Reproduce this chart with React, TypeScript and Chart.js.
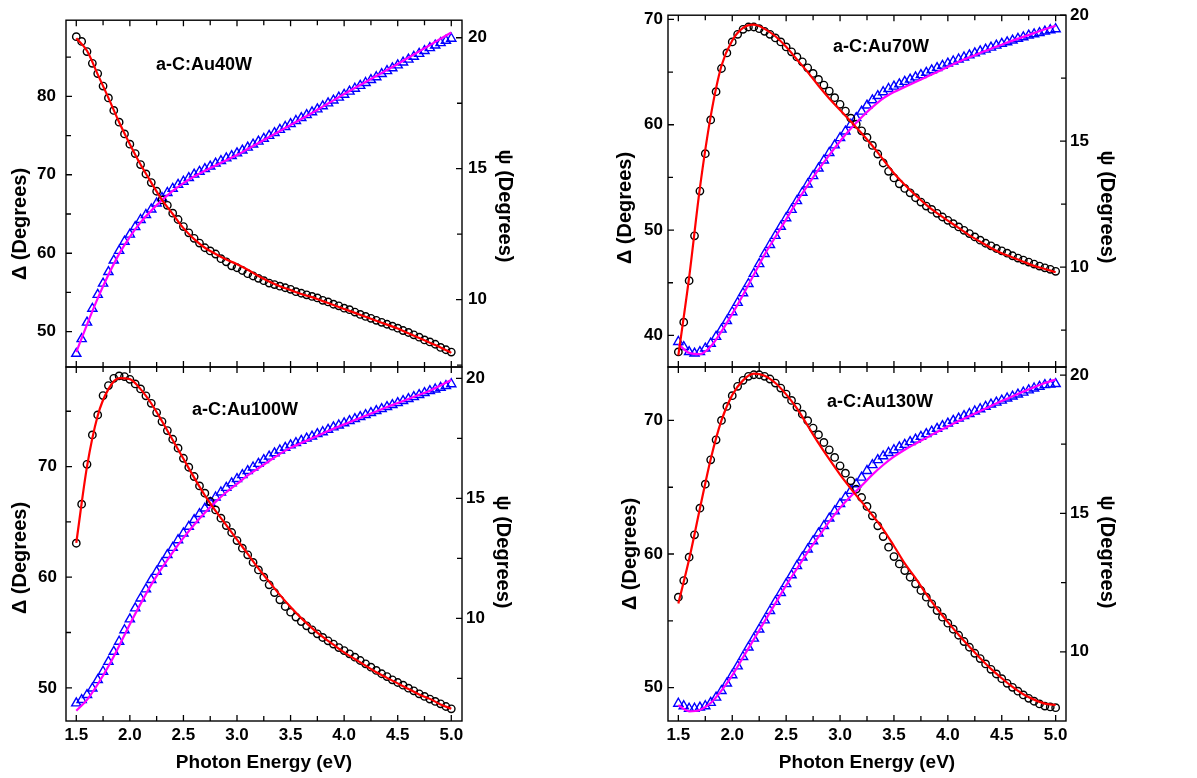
import React, { useEffect, useRef } from 'react';
import { Chart, registerables } from 'chart.js';

Chart.register(...registerables);

const FONT = '"Liberation Sans", Arial, Helvetica, sans-serif';

// Photon energy grid of the measured points (eV)
const ENERGY = [
  1.5, 1.55, 1.6, 1.65, 1.7, 1.75, 1.8, 1.85, 1.9, 1.95,
  2.0, 2.05, 2.1, 2.15, 2.2, 2.25, 2.3, 2.35, 2.4, 2.45,
  2.5, 2.55, 2.6, 2.65, 2.7, 2.75, 2.8, 2.85, 2.9, 2.95,
  3.0, 3.05, 3.1, 3.15, 3.2, 3.25, 3.3, 3.35, 3.4, 3.45,
  3.5, 3.55, 3.6, 3.65, 3.7, 3.75, 3.8, 3.85, 3.9, 3.95,
  4.0, 4.05, 4.1, 4.15, 4.2, 4.25, 4.3, 4.35, 4.4, 4.45,
  4.5, 4.55, 4.6, 4.65, 4.7, 4.75, 4.8, 4.85, 4.9, 4.95,
  5.0,
];

// Photon energy grid of the model fit curves (eV)
const FIT_ENERGY = [
  1.5, 1.6, 1.7, 1.8, 1.9, 2.0, 2.1, 2.2, 2.3, 2.4,
  2.5, 2.6, 2.7, 2.8, 2.9, 3.0, 3.1, 3.2, 3.3, 3.4,
  3.5, 3.6, 3.7, 3.8, 3.9, 4.0, 4.1, 4.2, 4.3, 4.4,
  4.5, 4.6, 4.7, 4.8, 4.9, 5.0,
];

// ---------- a-C:Au40W ----------
const DELTA_40W = [
  87.6, 87.0, 85.7, 84.2, 82.9, 81.3, 79.8, 78.2, 76.7, 75.2,
  73.9, 72.7, 71.3, 70.1, 69.0, 67.9, 66.8, 66.1, 65.1, 64.3,
  63.4, 62.6, 61.9, 61.3, 60.7, 60.3, 59.9, 59.3, 58.9, 58.4,
  58.15, 57.8, 57.4, 57.1, 56.8, 56.5, 56.2, 56.0, 55.8, 55.6,
  55.4, 55.1, 54.9, 54.7, 54.5, 54.3, 54.0, 53.8, 53.5, 53.3,
  53.0, 52.8, 52.5, 52.2, 51.95, 51.7, 51.45, 51.2, 50.95, 50.7,
  50.45, 50.15, 49.9, 49.6, 49.3, 48.95, 48.7, 48.4, 48.0, 47.7,
  47.4,
];
const DELTA_FIT_40W = [
  87.4, 85.8, 82.8, 79.8, 76.7, 73.9, 71.3, 69.0, 66.8, 65.0,
  63.2, 61.8, 60.7, 59.9, 59.2, 58.6, 57.9, 57.1, 56.4, 55.8,
  55.3, 54.8, 54.4, 53.9, 53.4, 52.9, 52.4, 51.9, 51.4, 50.9,
  50.4, 49.8, 49.2, 48.6, 48.0, 47.3,
];
const PSI_40W = [
  7.94, 8.5, 9.13, 9.66, 10.19, 10.62, 11.06, 11.5, 11.87, 12.22,
  12.49, 12.78, 13.05, 13.24, 13.45, 13.68, 13.89, 14.08, 14.24, 14.39,
  14.51, 14.65, 14.78, 14.89, 14.99, 15.09, 15.2, 15.3, 15.4, 15.49,
  15.59, 15.7, 15.81, 15.93, 16.04, 16.15, 16.26, 16.37, 16.49, 16.6,
  16.71, 16.83, 16.94, 17.05, 17.16, 17.27, 17.39, 17.5, 17.61, 17.72,
  17.83, 17.95, 18.06, 18.17, 18.28, 18.39, 18.5, 18.62, 18.73, 18.84,
  18.95, 19.06, 19.17, 19.28, 19.39, 19.5, 19.61, 19.71, 19.8, 19.89,
  19.97,
];
const PSI_FIT_40W = [
  8.0, 9.05, 10.05, 10.95, 11.75, 12.4, 12.95, 13.4, 13.8, 14.15,
  14.45, 14.7, 14.92, 15.12, 15.32, 15.52, 15.75, 15.98, 16.21, 16.44,
  16.67, 16.9, 17.13, 17.37, 17.61, 17.85, 18.08, 18.31, 18.54, 18.77,
  19.0, 19.24, 19.48, 19.72, 19.96, 20.2,
];

// ---------- a-C:Au70W ----------
const DELTA_70W = [
  38.43, 41.26, 45.2, 49.45, 53.7, 57.25, 60.46, 63.14, 65.34, 66.82,
  67.86, 68.58, 69.06, 69.28, 69.28, 69.12, 68.87, 68.58, 68.24, 67.86,
  67.39, 66.92, 66.44, 65.97, 65.4, 64.87, 64.3, 63.77, 63.2, 62.57,
  61.94, 61.3, 60.62, 60.05, 59.42, 58.8, 58.04, 57.22, 56.37, 55.58,
  54.95, 54.39, 53.95, 53.54, 53.07, 52.66, 52.28, 51.96, 51.59, 51.24,
  50.93, 50.61, 50.3, 49.98, 49.67, 49.35, 49.04, 48.75, 48.5, 48.25,
  48.03, 47.81, 47.56, 47.34, 47.15, 46.96, 46.77, 46.58, 46.42, 46.27,
  46.08,
];
const DELTA_FIT_70W = [
  38.1, 45.5, 54.0, 60.8, 65.6, 68.0, 69.2, 69.5, 69.1, 68.4,
  67.4, 66.2, 65.0, 63.7, 62.5, 61.4, 60.3, 59.2, 58.0, 56.7,
  55.4, 54.3, 53.3, 52.4, 51.6, 50.9, 50.2, 49.5, 48.9, 48.3,
  47.8, 47.4, 47.0, 46.6, 46.3, 46.0,
];
const PSI_70W = [
  7.04, 6.84, 6.64, 6.58, 6.64, 6.78, 6.97, 7.24, 7.53, 7.87,
  8.22, 8.59, 8.97, 9.34, 9.74, 10.13, 10.53, 10.89, 11.25, 11.61,
  11.95, 12.28, 12.63, 12.96, 13.29, 13.62, 13.92, 14.24, 14.54, 14.84,
  15.13, 15.39, 15.66, 15.92, 16.18, 16.42, 16.63, 16.8, 16.95, 17.08,
  17.17, 17.26, 17.36, 17.45, 17.54, 17.63, 17.72, 17.82, 17.91, 18.0,
  18.09, 18.17, 18.25, 18.33, 18.41, 18.49, 18.57, 18.64, 18.72, 18.8,
  18.87, 18.93, 19.0, 19.07, 19.13, 19.2, 19.25, 19.3, 19.36, 19.41,
  19.45,
];
const PSI_FIT_70W = [
  6.95, 6.6, 6.55, 6.85, 7.45, 8.15, 8.9, 9.7, 10.5, 11.2,
  11.9, 12.6, 13.25, 13.87, 14.45, 15.0, 15.5, 15.95, 16.35, 16.7,
  16.95, 17.15, 17.35, 17.55, 17.75, 17.95, 18.15, 18.33, 18.5, 18.67,
  18.83, 18.99, 19.14, 19.29, 19.44, 19.58,
];

// ---------- a-C:Au100W ----------
const DELTA_100W = [
  63.07, 66.6, 70.2, 72.86, 74.67, 76.42, 77.32, 77.98, 78.19, 78.13,
  77.89, 77.47, 77.02, 76.39, 75.72, 74.88, 74.07, 73.25, 72.47, 71.66,
  70.75, 69.94, 69.1, 68.25, 67.59, 66.84, 66.08, 65.33, 64.67, 64.04,
  63.31, 62.62, 62.02, 61.33, 60.66, 60.0, 59.31, 58.61, 57.95, 57.35,
  56.84, 56.39, 55.99, 55.6, 55.24, 54.88, 54.55, 54.25, 53.95, 53.64,
  53.37, 53.07, 52.77, 52.47, 52.17, 51.87, 51.57, 51.27, 51.02, 50.72,
  50.48, 50.24, 49.97, 49.73, 49.46, 49.22, 48.98, 48.77, 48.55, 48.31,
  48.1,
];
const DELTA_FIT_100W = [
  63.1, 70.0, 74.6, 77.0, 78.0, 77.9, 77.0, 75.7, 74.1, 72.4,
  70.7, 69.0, 67.4, 66.0, 64.7, 63.4, 62.1, 60.8, 59.6, 58.4,
  57.3, 56.3, 55.4, 54.6, 53.9, 53.2, 52.6, 52.0, 51.4, 50.9,
  50.4, 49.9, 49.4, 49.0, 48.5, 48.1,
];
const PSI_100W = [
  6.46, 6.6, 6.81, 7.08, 7.43, 7.78, 8.19, 8.61, 9.03, 9.51,
  9.96, 10.42, 10.83, 11.21, 11.6, 11.94, 12.29, 12.64, 12.94, 13.26,
  13.54, 13.82, 14.1, 14.35, 14.58, 14.82, 15.04, 15.25, 15.44, 15.63,
  15.81, 15.97, 16.14, 16.29, 16.44, 16.6, 16.74, 16.88, 17.0, 17.11,
  17.21, 17.31, 17.4, 17.49, 17.58, 17.68, 17.76, 17.86, 17.96, 18.04,
  18.13, 18.22, 18.31, 18.39, 18.47, 18.56, 18.64, 18.72, 18.81, 18.89,
  18.97, 19.06, 19.14, 19.22, 19.31, 19.39, 19.47, 19.54, 19.61, 19.68,
  19.76,
];
const PSI_FIT_100W = [
  6.15, 6.6, 7.25, 8.0, 8.85, 9.75, 10.6, 11.4, 12.1, 12.75,
  13.35, 13.9, 14.4, 14.85, 15.25, 15.6, 15.95, 16.25, 16.55, 16.85,
  17.1, 17.3, 17.5, 17.7, 17.9, 18.08, 18.26, 18.44, 18.62, 18.8,
  18.97, 19.14, 19.31, 19.48, 19.7, 19.93,
];

// ---------- a-C:Au130W ----------
const DELTA_130W = [
  56.77, 58.01, 59.76, 61.44, 63.43, 65.23, 67.05, 68.55, 70.0, 71.05,
  71.85, 72.55, 73.0, 73.3, 73.42, 73.42, 73.3, 73.1, 72.8, 72.42,
  71.97, 71.5, 71.0, 70.47, 69.98, 69.43, 68.93, 68.35, 67.8, 67.23,
  66.6, 66.05, 65.48, 64.86, 64.23, 63.56, 62.86, 62.11, 61.31, 60.51,
  59.81, 59.26, 58.76, 58.26, 57.77, 57.27, 56.77, 56.27, 55.77, 55.27,
  54.82, 54.37, 53.92, 53.45, 53.02, 52.57, 52.17, 51.77, 51.37, 51.02,
  50.67, 50.32, 50.02, 49.73, 49.45, 49.2, 48.98, 48.78, 48.62, 48.55,
  48.5,
];
const DELTA_FIT_130W = [
  56.3, 59.6, 63.4, 67.1, 70.0, 71.9, 73.0, 73.5, 73.35, 72.8,
  71.95, 70.9, 69.6, 68.3, 67.1, 65.95, 64.9, 63.9, 62.9, 61.85,
  60.6, 59.3, 58.2, 57.0, 55.9, 54.9, 53.95, 53.05, 52.2, 51.4,
  50.7, 50.05, 49.5, 49.1, 48.8, 48.7,
];
const PSI_130W = [
  8.13, 8.04, 7.95, 7.95, 7.99, 8.04, 8.16, 8.35, 8.59, 8.86,
  9.16, 9.48, 9.82, 10.16, 10.48, 10.81, 11.14, 11.48, 11.81, 12.13,
  12.45, 12.77, 13.1, 13.41, 13.7, 14.0, 14.28, 14.55, 14.82, 15.08,
  15.34, 15.58, 15.82, 16.06, 16.3, 16.54, 16.75, 16.93, 17.07, 17.19,
  17.29, 17.39, 17.48, 17.58, 17.67, 17.77, 17.87, 17.96, 18.06, 18.16,
  18.25, 18.35, 18.43, 18.52, 18.6, 18.69, 18.77, 18.86, 18.94, 19.01,
  19.08, 19.16, 19.23, 19.3, 19.37, 19.45, 19.52, 19.58, 19.64, 19.66,
  19.68,
];
const PSI_FIT_130W = [
  8.07, 7.85, 7.9, 8.15, 8.6, 9.15, 9.8, 10.45, 11.1, 11.75,
  12.4, 13.0, 13.6, 14.15, 14.7, 15.2, 15.62, 16.0, 16.4, 16.75,
  17.05, 17.3, 17.52, 17.73, 17.94, 18.14, 18.34, 18.52, 18.7, 18.88,
  19.06, 19.23, 19.4, 19.56, 19.71, 19.84,
];

// Tick values
const X_MAJOR = [1.5, 2.0, 2.5, 3.0, 3.5, 4.0, 4.5, 5.0];
const X_MINOR = [1.75, 2.25, 2.75, 3.25, 3.75, 4.25, 4.75];
const PSI_MAJOR = [10, 15, 20];

type Pt = { x: number; y: number };
const pts = (xs: number[], ys: number[]): Pt[] => ys.map((y, i) => ({ x: xs[i], y }));

interface PanelDef {
  name: string;
  delta: number[];
  deltaFit: number[];
  psi: number[];
  psiFit: number[];
  area: { l: number; r: number; t: number; b: number };
  showX: boolean;
  xRange: [number, number];
  yRange: [number, number];
  y2Range: [number, number];
  yMajor: number[];
  yMinor: number[];
  y2Major: number[];
  y2Minor: number[];
  yPad: number;
  y2Pad: number;
  labelPos: [number, number];
  yTitlePos: [number, number];
  y2TitlePos: [number, number];
  xTitlePos: [number, number];
}

const PANELS: PanelDef[] = [
  {
    name: 'a-C:Au40W', delta: DELTA_40W, deltaFit: DELTA_FIT_40W, psi: PSI_40W, psiFit: PSI_FIT_40W,
    area: { l: 66, r: 462, t: 13, b: 367 }, showX: false,
    xRange: [1.404, 5.1], yRange: [45.5, 89.7], y2Range: [7.43, 20.67],
    yMajor: [50, 60, 70, 80], yMinor: [55, 65, 75, 85],
    y2Major: PSI_MAJOR, y2Minor: [7.5, 12.5, 17.5],
    yPad: 10, y2Pad: 6,
    labelPos: [204, 65], yTitlePos: [20, 224], y2TitlePos: [505, 206], xTitlePos: [264, 763],
  },
  {
    name: 'a-C:Au70W', delta: DELTA_70W, deltaFit: DELTA_FIT_70W, psi: PSI_70W, psiFit: PSI_FIT_70W,
    area: { l: 668, r: 1066, t: 13, b: 367 }, showX: false,
    xRange: [1.404, 5.096], yRange: [37.0, 70.4], y2Range: [6.04, 20.0],
    yMajor: [40, 50, 60, 70], yMinor: [45, 55, 65],
    y2Major: PSI_MAJOR, y2Minor: [7.5, 12.5, 17.5],
    yPad: 5, y2Pad: 4,
    labelPos: [881, 47], yTitlePos: [625, 208], y2TitlePos: [1107, 207], xTitlePos: [867, 763],
  },
  {
    name: 'a-C:Au100W', delta: DELTA_100W, deltaFit: DELTA_FIT_100W, psi: PSI_100W, psiFit: PSI_FIT_100W,
    area: { l: 66, r: 462, t: 367, b: 721 }, showX: true,
    xRange: [1.404, 5.1], yRange: [47.0, 79.0], y2Range: [5.72, 20.47],
    yMajor: [50, 60, 70], yMinor: [55, 65, 75],
    y2Major: PSI_MAJOR, y2Minor: [7.5, 12.5, 17.5],
    yPad: 9, y2Pad: 4,
    labelPos: [245, 410], yTitlePos: [20, 558], y2TitlePos: [503, 552], xTitlePos: [264, 763],
  },
  {
    name: 'a-C:Au130W', delta: DELTA_130W, deltaFit: DELTA_FIT_130W, psi: PSI_130W, psiFit: PSI_FIT_130W,
    area: { l: 668, r: 1066, t: 367, b: 721 }, showX: true,
    xRange: [1.404, 5.096], yRange: [47.5, 74.0], y2Range: [7.5, 20.29],
    yMajor: [50, 60, 70], yMinor: [55, 65],
    y2Major: PSI_MAJOR, y2Minor: [12.5, 17.5],
    yPad: 5, y2Pad: 4,
    labelPos: [880, 402], yTitlePos: [630, 554], y2TitlePos: [1107, 552], xTitlePos: [867, 763],
  },
];

const W = 1197;
const H = 778;
const AXW = 60; // fixed width of each y axis box
const XH = 40; // fixed height of x axis box on bottom panels

function makeDecor(p: PanelDef) {
  return {
    id: 'decor-' + p.name,
    afterDraw(chart: any) {
      const { ctx, chartArea: a } = chart;
      const sx = chart.scales.x;
      const sy = chart.scales.y;
      const sy2 = chart.scales.y2;
      ctx.save();
      ctx.strokeStyle = '#000';
      ctx.lineWidth = 1.3;
      ctx.beginPath();
      const xt = (v: number, len: number) => {
        const px = sx.getPixelForValue(v);
        ctx.moveTo(px, a.bottom);
        ctx.lineTo(px, a.bottom - len);
        ctx.moveTo(px, a.top);
        ctx.lineTo(px, a.top + len);
      };
      X_MAJOR.forEach((v) => xt(v, 6));
      X_MINOR.forEach((v) => xt(v, 5));
      const ytL = (v: number, len: number) => {
        const py = sy.getPixelForValue(v);
        ctx.moveTo(a.left, py);
        ctx.lineTo(a.left + len, py);
      };
      const ytR = (v: number, len: number) => {
        const py = sy2.getPixelForValue(v);
        ctx.moveTo(a.right, py);
        ctx.lineTo(a.right - len, py);
      };
      p.yMajor.forEach((v) => ytL(v, 6));
      p.yMinor.forEach((v) => ytL(v, 5));
      p.y2Major.forEach((v) => ytR(v, 6));
      p.y2Minor.forEach((v) => ytR(v, 5));
      ctx.stroke();

      ctx.lineWidth = 1.4;
      ctx.strokeRect(a.left, a.top, a.right - a.left, a.bottom - a.top);

      ctx.fillStyle = '#000';
      ctx.textAlign = 'center';
      ctx.textBaseline = 'middle';
      ctx.font = `bold 18px ${FONT}`;
      ctx.fillText(p.name, p.labelPos[0], p.labelPos[1]);

      ctx.font = `bold 20px ${FONT}`;
      ctx.save();
      ctx.translate(p.yTitlePos[0], p.yTitlePos[1]);
      ctx.rotate(-Math.PI / 2);
      ctx.fillText('\u0394 (Degrees)', 0, 0);
      ctx.restore();

      ctx.save();
      ctx.translate(p.y2TitlePos[0], p.y2TitlePos[1]);
      ctx.rotate(Math.PI / 2);
      ctx.fillText('\u03C8 (Degrees)', 0, 0);
      ctx.restore();

      if (p.showX) {
        ctx.font = `bold 19px ${FONT}`;
        ctx.fillText('Photon Energy (eV)', p.xTitlePos[0], p.xTitlePos[1]);
      }
      ctx.restore();
    },
  };
}

function buildConfig(p: PanelDef): any {
  const tickFont = { family: FONT, size: 17, weight: 'bold' as const };
  return {
    type: 'line',
    data: {
      datasets: [
        {
          label: 'Delta fit',
          data: pts(FIT_ENERGY, p.deltaFit),
          borderColor: '#ff0000',
          borderWidth: 2.2,
          pointRadius: 0,
          cubicInterpolationMode: 'monotone',
          yAxisID: 'y',
        },
        {
          label: 'Psi fit',
          data: pts(FIT_ENERGY, p.psiFit),
          borderColor: '#ff00ff',
          borderWidth: 2.2,
          pointRadius: 0,
          cubicInterpolationMode: 'monotone',
          yAxisID: 'y2',
        },
        {
          label: 'Delta',
          data: pts(ENERGY, p.delta),
          showLine: false,
          pointStyle: 'circle',
          pointRadius: 3.7,
          pointBorderWidth: 1.4,
          pointBorderColor: '#000000',
          pointBackgroundColor: 'rgba(0,0,0,0)',
          yAxisID: 'y',
        },
        {
          label: 'Psi',
          data: pts(ENERGY, p.psi),
          showLine: false,
          pointStyle: 'triangle',
          pointRadius: 5.3,
          pointBorderWidth: 1.4,
          pointBorderColor: '#0000ff',
          pointBackgroundColor: 'rgba(0,0,0,0)',
          yAxisID: 'y2',
        },
      ],
    },
    options: {
      responsive: false,
      animation: false,
      devicePixelRatio: 1,
      events: [],
      layout: {
        padding: {
          left: p.area.l - AXW,
          right: W - p.area.r - AXW,
          top: p.area.t,
          bottom: H - p.area.b - (p.showX ? XH : 0),
        },
      },
      plugins: { legend: { display: false }, tooltip: { enabled: false } },
      scales: {
        x: {
          type: 'linear',
          position: 'bottom',
          min: p.xRange[0],
          max: p.xRange[1],
          grid: { display: false, drawTicks: false },
          border: { display: false },
          ticks: {
            display: p.showX,
            autoSkip: false,
            maxRotation: 0,
            padding: 4,
            color: '#000',
            font: tickFont,
            callback: (v: any) => Number(v).toFixed(1),
          },
          afterBuildTicks: (s: any) => {
            s.ticks = X_MAJOR.map((v) => ({ value: v }));
          },
          afterFit: (s: any) => {
            s.height = p.showX ? XH : 0;
          },
        },
        y: {
          type: 'linear',
          position: 'left',
          min: p.yRange[0],
          max: p.yRange[1],
          grid: { display: false, drawTicks: false },
          border: { display: false },
          ticks: {
            autoSkip: false,
            padding: p.yPad,
            color: '#000',
            font: tickFont,
            callback: (v: any) => String(v),
          },
          afterBuildTicks: (s: any) => {
            s.ticks = p.yMajor.map((v) => ({ value: v }));
          },
          afterFit: (s: any) => {
            s.width = AXW;
          },
        },
        y2: {
          type: 'linear',
          position: 'right',
          min: p.y2Range[0],
          max: p.y2Range[1],
          grid: { display: false, drawTicks: false },
          border: { display: false },
          ticks: {
            autoSkip: false,
            padding: p.y2Pad,
            color: '#000',
            font: tickFont,
            callback: (v: any) => String(v),
          },
          afterBuildTicks: (s: any) => {
            s.ticks = p.y2Major.map((v) => ({ value: v }));
          },
          afterFit: (s: any) => {
            s.width = AXW;
          },
        },
      },
    },
    plugins: [makeDecor(p)],
  };
}

function Panel({ p }: { p: PanelDef }) {
  const ref = useRef<HTMLCanvasElement>(null);
  useEffect(() => {
    if (!ref.current) return;
    const chart = new Chart(ref.current, buildConfig(p));
    return () => chart.destroy();
  }, [p]);
  return (
    <canvas
      ref={ref}
      width={W}
      height={H}
      style={{ position: 'absolute', left: 0, top: 0, width: W, height: H }}
    />
  );
}

export default function App() {
  return (
    <div
      style={{
        position: 'absolute',
        left: 0,
        top: 0,
        width: W,
        height: H,
        background: '#ffffff',
        overflow: 'hidden',
      }}
    >
      {PANELS.map((p) => (
        <Panel key={p.name} p={p} />
      ))}
    </div>
  );
}
